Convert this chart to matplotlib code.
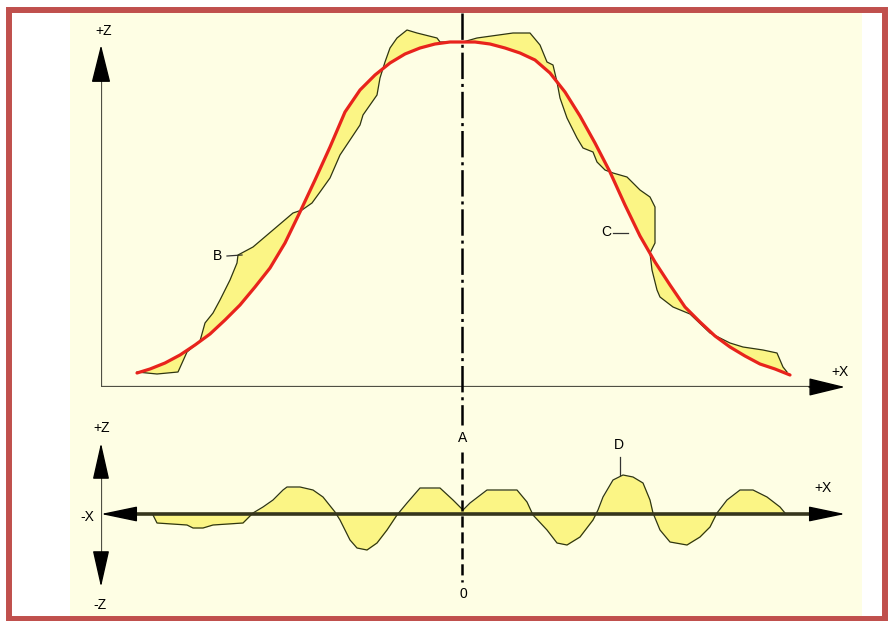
import matplotlib.pyplot as plt
from matplotlib.patches import Rectangle
import numpy as np

plt.rcParams['font.family'] = ['Liberation Sans', 'DejaVu Sans']
plt.rcParams['lines.scale_dashes'] = False

# nominal (red) profile, x along the part, z height above the datum
nom_x = [36, 49, 64, 79, 94, 109, 124, 139, 154, 169, 184, 199, 214, 229, 244,
         259, 274, 289, 304, 319, 334, 349, 361, 374, 389, 404, 419, 434, 449, 464,
         479, 494, 509, 524, 539, 554, 569, 584, 599, 614, 629, 644, 659, 674, 689]
nom_z = [14, 18, 24, 32, 42, 53, 67, 82, 100, 119, 144, 175, 207, 240, 275,
         297, 312, 324, 333, 339, 343, 345, 345, 345, 343, 339, 334, 327, 314, 295,
         271, 244, 215, 182, 151, 125, 102, 80, 65, 51, 40, 31, 23, 18, 12]

# measured profile
meas_x = [36, 56, 77, 86, 99, 104, 112, 119, 129, 136, 137, 152, 172, 192, 201,
          211, 219, 229, 239, 259, 262, 276, 279, 284, 289, 296, 306, 316, 336, 339,
          356, 362, 376, 412, 429, 439, 446, 452, 456, 459, 466, 476, 482, 492, 496,
          504, 512, 526, 539, 549, 554, 554, 549, 551, 556, 559, 572, 589, 609, 629,
          642, 662, 676, 682, 686]
meas_z = [15, 13, 15, 35, 46, 64, 74, 87, 107, 124, 132, 140, 157, 174, 177,
          184, 195, 209, 232, 262, 272, 292, 309, 325, 339, 349, 357, 354, 349, 345,
          345, 345, 349, 354, 354, 342, 325, 322, 305, 289, 269, 249, 239, 235, 225,
          217, 214, 210, 197, 190, 180, 144, 134, 117, 97, 90, 80, 73, 54, 44,
          40, 37, 34, 20, 15]

# deviation of measured from nominal, unrolled along the profile
dev_x = [52, 56, 86, 92, 102, 112, 142, 152, 162, 172, 182, 186, 199, 212, 222,
         234, 239, 249, 256, 266, 276, 286, 296, 306, 319, 339, 352, 362, 369, 386,
         416, 426, 432, 446, 456, 466, 479, 492, 497, 502, 512, 522, 532, 542, 549,
         552, 559, 569, 586, 599, 609, 616, 626, 639, 652, 666, 679, 684]
dev_z = [-1, -9, -11, -14, -14, -11, -9, 1, 7, 14, 24, 27, 27, 24, 17,
         2, -6, -26, -34, -36, -29, -16, -1, 11, 26, 26, 14, 4, 11, 24,
         24, 12, -1, -16, -29, -31, -23, -6, 4, 17, 34, 39, 37, 31, 14,
         1, -16, -28, -31, -23, -13, 1, 14, 24, 24, 17, 7, 1]

center_x = 361
fill_col = '#fbf585'
edge_col = '#2e3512'
red_col = '#e8231c'
axis_col = '#505044'

fig = plt.figure(figsize=(8.89, 6.21), dpi=100)
fig.patch.set_facecolor('white')
fig.patches.append(Rectangle((70 / 889, 4 / 621), 792 / 889, 604 / 621,
                             transform=fig.transFigure, facecolor='#fefee4',
                             edgecolor='none', zorder=-5))
fig.patches.append(Rectangle((9 / 889, 2 / 621), 876 / 889, 609 / 621,
                             transform=fig.transFigure, facecolor='none',
                             edgecolor='#c0504d', lw=4.3, zorder=5))

# upper plot: nominal vs measured profile
ax = fig.add_axes([101 / 889, 234 / 621, 749 / 889, 377 / 621])
ax.set_xlim(0, 749)
ax.set_ylim(0, 377)
ax.axis('off')
ax.patch.set_alpha(0)

poly_x = meas_x + nom_x[::-1]
poly_z = meas_z + nom_z[::-1]
ax.fill(poly_x, poly_z, color=fill_col, lw=0, zorder=2)
ax.plot(meas_x, meas_z, color=edge_col, lw=0.9, zorder=3)
ax.plot(nom_x, nom_z, color=red_col, lw=2.3, solid_capstyle='round', zorder=4)

ax.plot([0, 0], [0, 320], color=axis_col, lw=1.6, zorder=3)
ax.plot([0, 720], [0, 0], color=axis_col, lw=1.6, zorder=3)
ax.annotate('', xy=(0, 342), xytext=(0, 306),
            arrowprops=dict(arrowstyle='-|>,head_length=1.2,head_width=0.3',
                            mutation_scale=20, color='black', lw=1,
                            shrinkA=0, shrinkB=0))
ax.annotate('', xy=(744, 0), xytext=(708, 0),
            arrowprops=dict(arrowstyle='-|>,head_length=1.15,head_width=0.28',
                            mutation_scale=20, color='black', lw=1,
                            shrinkA=0, shrinkB=0))

ax.plot([center_x, center_x], [374, -38], color='black', lw=1.8,
        linestyle=(0, (19, 3.5, 2.2, 3.5)), zorder=5, clip_on=False)

ax.text(3, 356, '+Z', fontsize=10, ha='center', va='center')
ax.text(739, 15, '+X', fontsize=10, ha='center', va='center')
ax.text(117, 131, 'B', fontsize=10, ha='center', va='center')
ax.plot([126, 141], [131, 132], color='#333', lw=0.9)
ax.text(505, 155, 'C', fontsize=10, ha='center', va='center')
ax.plot([512, 527], [154, 154], color='#333', lw=0.9)

# lower plot: deviation along the profile
ax2 = fig.add_axes([101 / 889, 11 / 621, 749 / 889, 190 / 621])
ax2.set_xlim(0, 749)
ax2.set_ylim(-96, 94)
ax2.axis('off')
ax2.patch.set_alpha(0)

ax2.fill_between(dev_x, dev_z, 0, color=fill_col, lw=0, zorder=2)
ax2.plot(dev_x, dev_z, color=edge_col, lw=0.9, zorder=3)

ax2.plot([0, 0], [-55, 55], color=axis_col, lw=1.6, zorder=3)
ax2.plot([20, 720], [0, 0], color='#35351c', lw=2.6, zorder=4)
for tip, tail, hw in [((0, 71), (0, 37), 0.26), ((0, -73), (0, -39), 0.26),
                      ((0, 0), (32, 0), 0.24), ((744, 0), (712, 0), 0.24)]:
    ax2.annotate('', xy=tip, xytext=tail,
                 arrowprops=dict(arrowstyle='-|>,head_length=1.15,head_width=%s' % hw,
                                 mutation_scale=20, color='black', lw=1,
                                 shrinkA=0, shrinkB=0), zorder=5)

ax2.plot([center_x, center_x], [62, -68], color='black', lw=1.8,
         linestyle=(0, (8, 3.5)), zorder=5)

ax2.text(1, 86, '+Z', fontsize=10, ha='center', va='center')
ax2.text(-1, -91, '-Z', fontsize=10, ha='center', va='center')
ax2.text(-14, -3, '-X', fontsize=10, ha='center', va='center')
ax2.text(722, 26, '+X', fontsize=10, ha='center', va='center')
ax2.text(center_x + 1, 76, 'A', fontsize=10, ha='center', va='center')
ax2.text(center_x + 1, -80, '0', fontsize=10, ha='center', va='center')
ax2.text(518, 69, 'D', fontsize=10, ha='center', va='center')
ax2.plot([519, 519], [57, 39], color='#333', lw=0.9)

fig.savefig('out.png', dpi=100, facecolor='white')
